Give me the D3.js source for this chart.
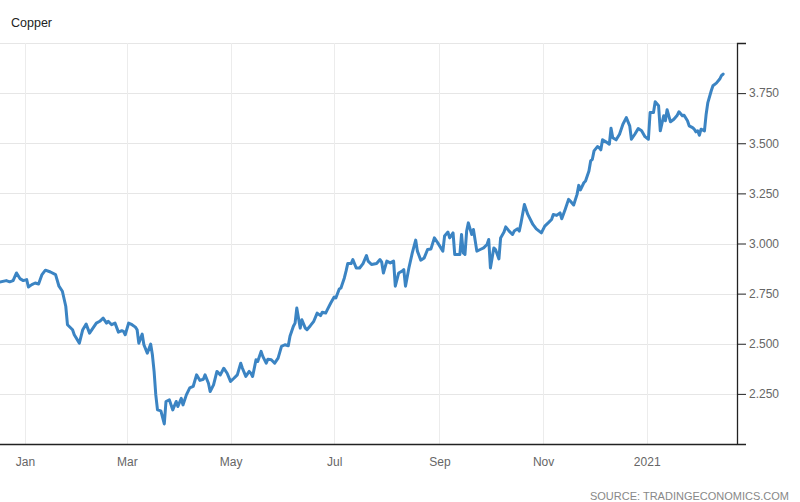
<!DOCTYPE html>
<html>
<head>
<meta charset="utf-8">
<script src="https://cdn.jsdelivr.net/npm/d3@7"></script>
<style>
  html, body { margin: 0; padding: 0; background: #ffffff; }
  svg { display: block; font-family: "Liberation Sans", Arial, sans-serif; }
</style>
</head>
<body>
<svg id="chart" width="800" height="502"></svg>
<script>
const title = "Copper";
const source = "SOURCE: TRADINGECONOMICS.COM";

const dates = [
"2019-12-17","2019-12-21","2019-12-23","2019-12-25","2019-12-27","2019-12-29","2019-12-31",
"2020-01-02","2020-01-03","2020-01-05","2020-01-07","2020-01-09","2020-01-11","2020-01-13","2020-01-16","2020-01-19","2020-01-21","2020-01-23","2020-01-25","2020-01-26","2020-01-29","2020-01-30",
"2020-02-02","2020-02-04","2020-02-06","2020-02-08","2020-02-10","2020-02-12","2020-02-14","2020-02-16","2020-02-18","2020-02-19","2020-02-21","2020-02-23","2020-02-25","2020-02-27","2020-02-28","2020-02-29",
"2020-03-02","2020-03-04","2020-03-06","2020-03-07","2020-03-08","2020-03-10","2020-03-11","2020-03-13","2020-03-15","2020-03-16","2020-03-17","2020-03-18","2020-03-19","2020-03-21","2020-03-23","2020-03-24","2020-03-26","2020-03-28","2020-03-30","2020-03-31",
"2020-04-02","2020-04-03","2020-04-05","2020-04-07","2020-04-09","2020-04-11","2020-04-13","2020-04-15","2020-04-16","2020-04-18","2020-04-19","2020-04-21","2020-04-23","2020-04-25","2020-04-27","2020-04-29",
"2020-05-01","2020-05-03","2020-05-05","2020-05-07","2020-05-08","2020-05-10","2020-05-12","2020-05-13","2020-05-14","2020-05-16","2020-05-17","2020-05-19","2020-05-20","2020-05-22","2020-05-23","2020-05-25","2020-05-27","2020-05-29","2020-05-31",
"2020-06-02","2020-06-04","2020-06-05","2020-06-07","2020-06-08","2020-06-09","2020-06-11","2020-06-12","2020-06-14","2020-06-15","2020-06-17","2020-06-19","2020-06-21","2020-06-23","2020-06-24","2020-06-26","2020-06-27","2020-06-29",
"2020-07-01","2020-07-02","2020-07-04","2020-07-05","2020-07-07","2020-07-08","2020-07-09","2020-07-11","2020-07-12","2020-07-14","2020-07-16","2020-07-18","2020-07-20","2020-07-21","2020-07-23","2020-07-26","2020-07-28","2020-07-29","2020-07-30",
"2020-08-01","2020-08-03","2020-08-05","2020-08-06","2020-08-08","2020-08-10","2020-08-11","2020-08-12","2020-08-14","2020-08-16","2020-08-18","2020-08-19","2020-08-21","2020-08-23","2020-08-25","2020-08-27","2020-08-29","2020-08-31",
"2020-09-03","2020-09-04","2020-09-06","2020-09-07","2020-09-09","2020-09-10","2020-09-12","2020-09-13","2020-09-14","2020-09-15","2020-09-16","2020-09-17","2020-09-18","2020-09-20","2020-09-21","2020-09-23","2020-09-25","2020-09-27","2020-09-29","2020-09-30",
"2020-10-01","2020-10-03","2020-10-04","2020-10-06","2020-10-07","2020-10-09","2020-10-10","2020-10-12","2020-10-14","2020-10-15","2020-10-17","2020-10-18","2020-10-19","2020-10-21","2020-10-23","2020-10-26","2020-10-28","2020-10-31",
"2020-11-02","2020-11-04","2020-11-06","2020-11-07","2020-11-09","2020-11-11","2020-11-12","2020-11-14","2020-11-16","2020-11-17","2020-11-19","2020-11-21","2020-11-22","2020-11-23","2020-11-25","2020-11-26","2020-11-28","2020-11-29","2020-11-30",
"2020-12-01","2020-12-03","2020-12-04","2020-12-05","2020-12-06","2020-12-08","2020-12-10","2020-12-11","2020-12-12","2020-12-14","2020-12-16","2020-12-18","2020-12-20","2020-12-22","2020-12-23","2020-12-25","2020-12-27","2020-12-29","2020-12-31",
"2021-01-02","2021-01-03","2021-01-05","2021-01-06","2021-01-08","2021-01-09","2021-01-11","2021-01-12","2021-01-13","2021-01-15","2021-01-17","2021-01-19","2021-01-20","2021-01-22","2021-01-23","2021-01-25","2021-01-26","2021-01-28","2021-01-29","2021-01-30","2021-01-31",
"2021-02-01","2021-02-02","2021-02-04","2021-02-05","2021-02-06","2021-02-08","2021-02-09","2021-02-11","2021-02-13","2021-02-14","2021-02-15"
];

const values = [
2.807,2.815,2.809,2.815,2.853,2.825,2.815,
2.82,2.783,2.795,2.803,2.798,2.845,2.867,2.858,2.845,2.787,2.762,2.687,2.595,2.57,2.545,
2.503,2.57,2.598,2.553,2.578,2.603,2.612,2.628,2.603,2.612,2.595,2.603,2.558,2.565,2.562,2.545,
2.603,2.595,2.583,2.57,2.503,2.548,2.495,2.453,2.498,2.445,2.362,2.245,2.17,2.165,2.10,2.212,2.22,2.17,2.212,2.187,
2.228,2.195,2.245,2.28,2.287,2.345,2.317,2.323,2.345,2.303,2.262,2.295,2.362,2.345,2.378,2.353,
2.312,2.328,2.345,2.403,2.378,2.337,2.362,2.353,2.337,2.42,2.412,2.462,2.437,2.403,2.423,2.42,2.403,2.428,2.487,
2.495,2.49,2.537,2.587,2.603,2.678,2.578,2.62,2.578,2.57,2.59,2.612,2.653,2.64,2.657,2.653,2.67,2.703,
2.733,2.728,2.773,2.778,2.828,2.862,2.90,2.90,2.92,2.878,2.878,2.90,2.94,2.912,2.895,2.90,2.92,2.907,2.853,
2.912,2.903,2.912,2.787,2.853,2.862,2.87,2.787,2.878,2.953,3.017,2.962,2.917,2.928,2.97,2.973,3.028,3.003,
2.962,3.037,3.057,3.028,3.053,2.945,2.945,2.945,3.045,2.953,2.945,3.062,3.103,3.045,3.07,2.962,2.97,2.978,2.995,3.02,
2.878,2.978,2.97,2.923,3.028,3.057,3.083,3.062,3.045,3.062,3.073,3.062,3.103,3.195,3.145,3.095,3.073,3.053,
3.087,3.103,3.12,3.145,3.14,3.153,3.123,3.17,3.22,3.212,3.192,3.245,3.29,3.267,3.303,3.312,3.362,3.412,3.42,
3.462,3.483,3.478,3.467,3.517,3.507,3.495,3.575,3.528,3.517,3.545,3.595,3.628,3.587,3.52,3.545,3.573,3.562,3.533,
3.52,3.653,3.653,3.707,3.687,3.562,3.637,3.612,3.667,3.607,3.62,3.64,3.657,3.637,3.64,3.612,3.587,3.578,3.57,3.557,3.562,
3.54,3.57,3.562,3.645,3.703,3.762,3.787,3.80,3.82,3.837,3.845
];

const yGridValues = [2.0, 2.25, 2.5, 2.75, 3.0, 3.25, 3.5, 3.75, 4.0];
const yTickLabels = ["", "2.250", "2.500", "2.750", "3.000", "3.250", "3.500", "3.750", ""];
const xTickDates = ["2020-01-01","2020-03-01","2020-05-01","2020-07-01","2020-09-01","2020-11-01","2021-01-01"];
const xTickLabels = ["Jan","Mar","May","Jul","Sep","Nov","2021"];

const parse = d3.timeParse("%Y-%m-%d");
const data = dates.map((d, i) => ({ date: parse(d), value: values[i] }));

const plot = { left: 0, right: 737, top: 43, bottom: 444 };

const x = d3.scaleTime()
  .domain([parse("2020-01-01"), parse("2021-01-01")])
  .range([25, 646.7]);
const y = d3.scaleLinear()
  .domain([2.0, 4.0])
  .range([plot.bottom, plot.top]);

const svg = d3.select("#chart");

svg.append("defs").append("clipPath").attr("id", "clip")
  .append("rect")
  .attr("x", plot.left).attr("y", plot.top - 5)
  .attr("width", plot.right - plot.left).attr("height", plot.bottom - plot.top + 5);

// horizontal gridlines
svg.append("g").selectAll("line")
  .data(yGridValues.slice(1))
  .join("line")
  .attr("x1", plot.left).attr("x2", plot.right)
  .attr("y1", d => Math.round(y(d)) + 0.5).attr("y2", d => Math.round(y(d)) + 0.5)
  .attr("stroke", "#e6e6e6").attr("stroke-width", 1);

// vertical gridlines
svg.append("g").selectAll("line")
  .data(xTickDates.map(parse))
  .join("line")
  .attr("x1", d => Math.round(x(d)) + 0.5).attr("x2", d => Math.round(x(d)) + 0.5)
  .attr("y1", plot.top).attr("y2", plot.bottom)
  .attr("stroke", "#ececec").attr("stroke-width", 1);

// x axis
const xAxis = svg.append("g")
  .attr("transform", `translate(0,${plot.bottom})`)
  .call(d3.axisBottom(x)
    .tickValues(xTickDates.map(parse))
    .tickSize(0)
    .tickPadding(13)
    .tickFormat((d, i) => xTickLabels[i]));
xAxis.select(".domain").remove();
xAxis.selectAll("text").attr("fill", "#666").attr("font-size", 12)
  .attr("font-family", "'Liberation Sans', Arial, sans-serif");
svg.append("line")
  .attr("x1", plot.left).attr("x2", plot.right)
  .attr("y1", plot.bottom + 0.5).attr("y2", plot.bottom + 0.5)
  .attr("stroke", "#222").attr("stroke-width", 1.3);

// y axis (right)
const yAxis = svg.append("g")
  .attr("transform", `translate(${plot.right},0)`)
  .call(d3.axisRight(y)
    .tickValues(yGridValues)
    .tickSize(9)
    .tickPadding(3)
    .tickFormat((d, i) => yTickLabels[i]));
yAxis.select(".domain").attr("stroke", "#222").attr("stroke-width", 1.3);
yAxis.selectAll(".tick line").attr("stroke", "#222");
yAxis.selectAll("text").attr("fill", "#666").attr("font-size", 12)
  .attr("font-family", "'Liberation Sans', Arial, sans-serif");

// line
const line = d3.line()
  .x(d => x(d.date))
  .y(d => y(d.value));

svg.append("path")
  .datum(data)
  .attr("clip-path", "url(#clip)")
  .attr("d", line)
  .attr("fill", "none")
  .attr("stroke", "#3b84c3")
  .attr("stroke-width", 3)
  .attr("stroke-linejoin", "round")
  .attr("stroke-linecap", "round");

// title
svg.append("text")
  .attr("x", 11).attr("y", 27)
  .attr("font-size", 12.5)
  .attr("fill", "#222")
  .text(title);

// source
svg.append("text")
  .attr("x", 789).attr("y", 500)
  .attr("text-anchor", "end")
  .attr("font-size", 11)
  .attr("fill", "#888")
  .text(source);
</script>
</body>
</html>
